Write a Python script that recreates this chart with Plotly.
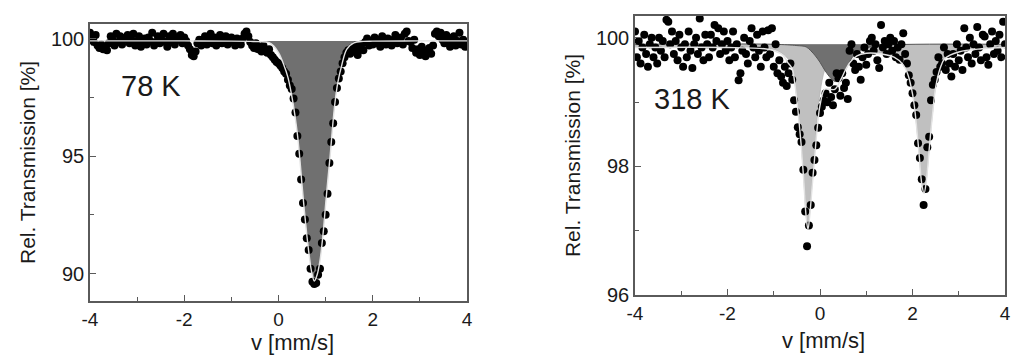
import plotly.graph_objects as go

# ---------------- data ----------------
velocity = [
    -4.00, -3.96, -3.92, -3.88, -3.84, -3.80, -3.76, -3.72, -3.68, -3.64,
    -3.60, -3.56, -3.52, -3.48, -3.44, -3.40, -3.36, -3.32, -3.28, -3.24,
    -3.20, -3.16, -3.12, -3.08, -3.04, -3.00, -2.96, -2.92, -2.88, -2.84,
    -2.80, -2.76, -2.72, -2.68, -2.64, -2.60, -2.56, -2.52, -2.48, -2.44,
    -2.40, -2.36, -2.32, -2.28, -2.24, -2.20, -2.16, -2.12, -2.08, -2.04,
    -2.00, -1.96, -1.92, -1.88, -1.84, -1.80, -1.76, -1.72, -1.68, -1.64,
    -1.60, -1.56, -1.52, -1.48, -1.44, -1.40, -1.36, -1.32, -1.28, -1.24,
    -1.20, -1.16, -1.12, -1.08, -1.04, -1.00, -0.96, -0.92, -0.88, -0.84,
    -0.80, -0.76, -0.72, -0.68, -0.64, -0.60, -0.56, -0.52, -0.48, -0.44,
    -0.40, -0.36, -0.32, -0.28, -0.24, -0.20, -0.16, -0.12, -0.08, -0.04,
    0.00, 0.04, 0.08, 0.12, 0.16, 0.20, 0.24, 0.28, 0.32, 0.36,
    0.40, 0.44, 0.48, 0.52, 0.56, 0.60, 0.64, 0.68, 0.72, 0.76,
    0.80, 0.84, 0.88, 0.92, 0.96, 1.00, 1.04, 1.08, 1.12, 1.16,
    1.20, 1.24, 1.28, 1.32, 1.36, 1.40, 1.44, 1.48, 1.52, 1.56,
    1.60, 1.64, 1.68, 1.72, 1.76, 1.80, 1.84, 1.88, 1.92, 1.96,
    2.00, 2.04, 2.08, 2.12, 2.16, 2.20, 2.24, 2.28, 2.32, 2.36,
    2.40, 2.44, 2.48, 2.52, 2.56, 2.60, 2.64, 2.68, 2.72, 2.76,
    2.80, 2.84, 2.88, 2.92, 2.96, 3.00, 3.04, 3.08, 3.12, 3.16,
    3.20, 3.24, 3.28, 3.32, 3.36, 3.40, 3.44, 3.48, 3.52, 3.56,
    3.60, 3.64, 3.68, 3.72, 3.76, 3.80, 3.84, 3.88, 3.92, 3.96,
    4.00,
]

trans_78K = [
    100.25, 100.05, 99.85, 100.15, 99.70, 99.60, 99.75, 99.55, 99.65, 99.50,
    99.80, 100.10, 99.95, 99.70, 100.20, 99.85, 100.10, 99.75, 99.95, 100.05,
    100.15, 99.80, 99.95, 100.20, 99.70, 99.90, 100.10, 99.65, 99.85, 100.00,
    99.75, 100.05, 99.90, 100.25, 99.70, 99.85, 100.10, 99.80, 99.95, 100.20,
    99.85, 99.65, 100.10, 99.90, 100.20, 99.75, 100.05, 99.95, 100.15, 99.80,
    100.05, 99.90, 99.70, 99.55, 99.30, 99.25, 99.45, 99.80, 99.95, 99.70,
    99.85, 100.10, 99.75, 99.95, 100.20, 99.80, 100.05, 99.70, 99.90, 100.15,
    99.80, 99.95, 100.10, 99.75, 99.90, 100.05, 99.85, 99.70, 100.00, 99.90,
    99.75, 100.00, 100.20, 100.30, 100.10, 99.85, 99.70, 99.60, 99.80, 99.55,
    99.65, 99.45, 99.70, 99.50, 99.40, 99.55, 99.30, 99.20, 99.10, 99.00,
    98.95, 98.85, 98.75, 98.60, 98.50, 98.25, 98.00, 97.85, 97.45, 96.85,
    95.85, 95.10, 94.00, 93.00, 92.30, 91.50, 91.00, 90.20, 89.65, 89.55,
    89.60, 89.95, 90.20, 91.30, 91.80, 92.50, 93.40, 94.70, 95.60, 96.40,
    97.30, 97.90, 98.30, 98.60, 98.95, 99.20, 99.40, 99.50, 99.35, 99.60,
    99.45, 99.70, 99.30, 99.55, 99.75, 99.50, 99.85, 100.00, 99.70, 99.90,
    99.75, 100.05, 99.80, 99.95, 99.65, 100.10, 99.85, 99.75, 100.00, 99.90,
    99.70, 99.95, 100.15, 99.80, 99.90, 100.05, 99.75, 100.20, 100.30, 99.90,
    99.85, 99.60, 99.95, 99.40, 99.55, 99.30, 99.65, 99.45, 99.25, 99.50,
    99.60, 99.35, 99.70, 100.20, 100.30, 100.10, 100.25, 99.95, 99.80, 100.15,
    100.05, 99.65, 99.85, 100.10, 99.70, 99.90, 100.25, 99.75, 99.95, 99.65,
    99.80,
]

trans_318K = [
    100.10, 99.70, 99.95, 99.60, 99.85, 100.05, 99.75, 99.55, 99.90, 100.00,
    99.70, 99.85, 99.60, 100.00, 99.80, 99.95, 99.70, 100.28, 100.25, 99.90,
    100.10, 99.75, 99.95, 99.65, 100.05, 99.85, 99.55, 99.90, 99.70, 100.10,
    99.80, 99.53, 99.90, 100.00, 99.75, 100.30, 99.85, 99.65, 100.05, 99.90,
    99.70, 100.05, 99.85, 100.20, 99.95, 100.15, 99.75, 99.90, 100.10, 99.80,
    99.95, 99.65, 99.85, 100.10, 99.70, 99.90, 99.34, 99.45, 99.80, 100.00,
    99.75, 99.60, 99.95, 100.15, 99.85, 99.70, 100.05, 99.80, 99.55, 100.10,
    99.85, 99.70, 100.12, 99.75, 100.15, 99.55, 99.90, 99.45, 99.65, 99.40,
    99.30, 99.55, 99.25, 99.45, 99.60, 99.35, 99.03, 98.85, 98.61, 98.50,
    98.38, 97.95, 97.30, 96.76, 97.08, 97.40, 97.90, 98.10, 98.33, 98.60,
    98.83, 98.93, 99.03, 99.14, 99.00, 99.30, 99.08, 98.95, 99.20, 99.45,
    99.37, 99.10, 99.45, 99.22, 99.30, 99.05, 99.80, 99.90, 99.60, 99.50,
    99.75, 99.55, 99.35, 99.70, 99.85, 99.58, 99.75, 99.95, 100.00, 99.80,
    99.90, 99.65, 99.53, 100.20, 99.85, 99.95, 99.75, 99.90, 100.00, 99.80,
    99.95, 99.70, 99.85, 99.66, 99.90, 100.07, 99.75, 99.60, 99.42, 99.30,
    99.14, 98.95, 98.80, 98.36, 98.13, 97.80, 97.40, 97.65, 98.30, 98.46,
    99.03, 99.27, 99.35, 99.47, 99.70, 99.55, 99.60, 99.85, 99.50, 99.75,
    99.60, 99.40, 99.75, 99.55, 99.90, 99.65, 99.80, 99.50, 100.15, 99.85,
    99.70, 100.00, 99.60, 99.90, 99.75, 100.17, 99.85, 99.65, 100.05, 100.02,
    99.70, 99.58, 99.90, 100.10, 99.75, 99.95, 99.80, 100.05, 99.70, 100.25,
    99.90,
]

# 78 K fit (single line)
BASELINE_78K = 99.90
fit78_v = [-4.0, -3.0, -2.0, -1.0, -0.6, -0.4, -0.2, -0.1, 0.0, 0.1, 0.2, 0.3,
           0.4, 0.45, 0.5, 0.55, 0.6, 0.65, 0.7, 0.76, 0.82, 0.88, 0.92, 0.96,
           1.0, 1.05, 1.1, 1.15, 1.2, 1.26, 1.34, 1.45, 1.6, 1.8, 2.0, 3.0, 4.0]
fit78_t = [99.90, 99.90, 99.90, 99.89, 99.88, 99.87, 99.83, 99.68, 99.40, 98.95, 98.35, 97.35,
           95.95, 94.95, 93.75, 92.65, 91.65, 90.80, 90.10, 89.68, 89.95, 90.55, 91.20, 92.00,
           92.95, 94.05, 95.10, 96.30, 97.30, 98.15, 98.85, 99.55, 99.82, 99.88, 99.89, 99.90, 99.90]

# 318 K fit components
BASELINE_318K = 99.90
doublet_v = [-4.0, -2.0, -1.2, -1.0, -0.8, -0.7, -0.6, -0.55, -0.5, -0.45, -0.4, -0.35,
             -0.3, -0.26, -0.22, -0.17, -0.12, -0.06, 0.0, 0.1, 0.2, 0.4, 0.8, 1.2,
             1.6, 1.8, 1.9, 2.0, 2.05, 2.1, 2.15, 2.2, 2.25, 2.3, 2.35, 2.4,
             2.45, 2.5, 2.6, 2.7, 3.0, 3.5, 4.0]
doublet_t = [99.86, 99.86, 99.84, 99.82, 99.75, 99.68, 99.55, 99.35, 99.05, 98.70, 98.30, 97.80,
             97.25, 97.05, 97.30, 97.75, 98.20, 98.75, 99.15, 99.50, 99.65, 99.77, 99.80, 99.78,
             99.72, 99.60, 99.45, 99.15, 98.90, 98.55, 98.15, 97.75, 97.60, 97.80, 98.20, 98.60,
             98.95, 99.25, 99.55, 99.70, 99.80, 99.85, 99.86]

singlet_v = [-4.0, -1.0, -0.5, -0.3, -0.2, -0.1, 0.0, 0.1, 0.2, 0.3, 0.36, 0.45,
             0.55, 0.65, 0.75, 0.9, 1.1, 1.5, 4.0]
singlet_t = [99.90, 99.90, 99.88, 99.86, 99.80, 99.72, 99.62, 99.50, 99.40, 99.33, 99.32, 99.37,
             99.50, 99.64, 99.74, 99.82, 99.86, 99.89, 99.90]

total318_v = [-4.0, -2.0, -1.2, -1.0, -0.8, -0.7, -0.6, -0.55, -0.5, -0.45, -0.4, -0.35,
              -0.3, -0.26, -0.22, -0.17, -0.12, -0.06, 0.0, 0.1, 0.2, 0.32, 0.45, 0.55,
              0.65, 0.8, 1.0, 1.2, 1.6, 1.8, 1.9, 2.0, 2.05, 2.1, 2.15, 2.2,
              2.25, 2.3, 2.35, 2.4, 2.45, 2.5, 2.6, 2.7, 3.0, 3.5, 4.0]
total318_t = [99.85, 99.85, 99.83, 99.80, 99.73, 99.62, 99.52, 99.32, 99.03, 98.67, 98.27, 97.77,
              97.22, 97.02, 97.25, 97.68, 98.10, 98.60, 98.95, 99.20, 99.20, 99.20, 99.35, 99.50,
              99.62, 99.72, 99.76, 99.76, 99.70, 99.58, 99.43, 99.13, 98.88, 98.53, 98.13, 97.73,
              97.58, 97.78, 98.18, 98.58, 98.93, 99.23, 99.53, 99.68, 99.78, 99.83, 99.85]

temp_labels = ["78 K", "318 K"]
x_title = "v [mm/s]"
y_title = "Rel. Transmission [%]"
x_ticks = [-4, -2, 0, 2, 4]
x_ticktext = ["-4", "-2", "0", "2", "4"]
x_minor = [-3, -1, 1, 3]
y78_ticks = [90, 95, 100]
y78_minor = [92.5, 97.5]
y318_ticks = [96, 98, 100]
y318_minor = [97, 99]

# ---------------- layout helpers ----------------
# The page body has an 8 px margin; the figure is sized to fill the rest of the window.
PAGE_OFF = 8
FIG_W = 1024 - PAGE_OFF
FIG_H = 359 - PAGE_OFF


def px(X):
    return (X - PAGE_OFF) / FIG_W


def py(Y):
    return 1 - (Y - PAGE_OFF) / FIG_H


FONT = "Liberation Sans, Arial, Helvetica, sans-serif"
TXT = "#1a1a1a"
FRAME = "#5a5a5a"
DARK_FILL = "#707070"
LIGHT_FILL = "#c0c0c0"
FIT_LINE = "#e2e2e2"

fig = go.Figure()

# ---- 78 K panel ----
fig.add_trace(go.Scatter(x=fit78_v, y=[BASELINE_78K] * len(fit78_v), mode="lines",
                         line=dict(width=0, color=DARK_FILL), line_shape="spline",
                         xaxis="x", yaxis="y", hoverinfo="skip"))
fig.add_trace(go.Scatter(x=fit78_v, y=fit78_t, mode="lines", fill="tonexty",
                         fillcolor=DARK_FILL, line=dict(width=0, color=DARK_FILL),
                         line_shape="spline", xaxis="x", yaxis="y"))
fig.add_trace(go.Scatter(x=velocity, y=trans_78K, mode="markers",
                         marker=dict(size=8, color="black", line=dict(width=0)),
                         xaxis="x", yaxis="y"))
fig.add_trace(go.Scatter(x=fit78_v, y=fit78_t, mode="lines", line_shape="spline",
                         line=dict(width=1.4, color=FIT_LINE), xaxis="x", yaxis="y"))

# ---- 318 K panel ----
fig.add_trace(go.Scatter(x=doublet_v, y=[BASELINE_318K] * len(doublet_v), mode="lines",
                         line=dict(width=0, color=LIGHT_FILL), line_shape="spline",
                         xaxis="x2", yaxis="y2", hoverinfo="skip"))
fig.add_trace(go.Scatter(x=doublet_v, y=doublet_t, mode="lines", fill="tonexty",
                         fillcolor=LIGHT_FILL, line=dict(width=0.8, color="#b0b0b0"),
                         line_shape="spline", xaxis="x2", yaxis="y2"))
fig.add_trace(go.Scatter(x=singlet_v, y=[BASELINE_318K] * len(singlet_v), mode="lines",
                         line=dict(width=0, color=DARK_FILL), line_shape="spline",
                         xaxis="x2", yaxis="y2", hoverinfo="skip"))
fig.add_trace(go.Scatter(x=singlet_v, y=singlet_t, mode="lines", fill="tonexty",
                         fillcolor=DARK_FILL, line=dict(width=1, color="#555555"),
                         line_shape="spline", xaxis="x2", yaxis="y2"))
fig.add_trace(go.Scatter(x=velocity, y=trans_318K, mode="markers",
                         marker=dict(size=8, color="black", line=dict(width=0)),
                         xaxis="x2", yaxis="y2"))
fig.add_trace(go.Scatter(x=total318_v, y=total318_t, mode="lines", line_shape="spline",
                         line=dict(width=1.4, color=FIT_LINE), xaxis="x2", yaxis="y2"))


def xaxis_cfg(domain, anchor):
    return dict(domain=domain, anchor=anchor, range=[-4, 4], tickvals=x_ticks,
                ticktext=x_ticktext,
                ticks="inside", ticklen=6, tickwidth=1.2, tickcolor=FRAME,
                minor=dict(tickvals=x_minor, ticks="inside", ticklen=4, tickcolor=FRAME, tickwidth=1.2),
                showline=True, mirror=True, linecolor=FRAME, linewidth=1.5,
                showgrid=False, zeroline=False, automargin=False,
                tickfont=dict(family=FONT, size=19, color=TXT))


def yaxis_cfg(domain, anchor, rng, tv, mv):
    return dict(domain=domain, anchor=anchor, range=rng, tickvals=tv,
                ticks="inside", ticklen=6, tickwidth=1.2, tickcolor=FRAME,
                minor=dict(tickvals=mv, ticks="inside", ticklen=4, tickcolor=FRAME, tickwidth=1.2),
                showline=True, mirror=True, linecolor=FRAME, linewidth=1.5,
                showgrid=False, zeroline=False, automargin=False,
                tickfont=dict(family=FONT, size=20, color=TXT),
                title=dict(text=y_title, standoff=10,
                           font=dict(family=FONT, size=21, color=TXT)))


def note(text, X, Y, size):
    return dict(text=text, xref="paper", yref="paper", x=px(X), y=py(Y),
                xanchor="center", yanchor="middle", showarrow=False,
                font=dict(family=FONT, size=size, color=TXT))


fig.update_layout(
    width=FIG_W, height=FIG_H,
    margin=dict(l=0, r=0, t=0, b=0),
    paper_bgcolor="white", plot_bgcolor="white",
    showlegend=False,
    template="none",
    xaxis=xaxis_cfg([px(90), px(467)], "y"),
    yaxis=yaxis_cfg([py(301), py(24)], "x", [88.83, 100.62], y78_ticks, y78_minor),
    xaxis2=xaxis_cfg([px(635), px(1005)], "y2"),
    yaxis2=yaxis_cfg([py(295), py(16)], "x2", [96.0, 100.34], y318_ticks, y318_minor),
    annotations=[
        note(temp_labels[0], 151, 86, 29),
        note(temp_labels[1], 692, 99, 29),
        note(x_title, 292, 342, 22),
        note(x_title, 823, 340, 22),
    ],
)

fig.write_html("out.html")
